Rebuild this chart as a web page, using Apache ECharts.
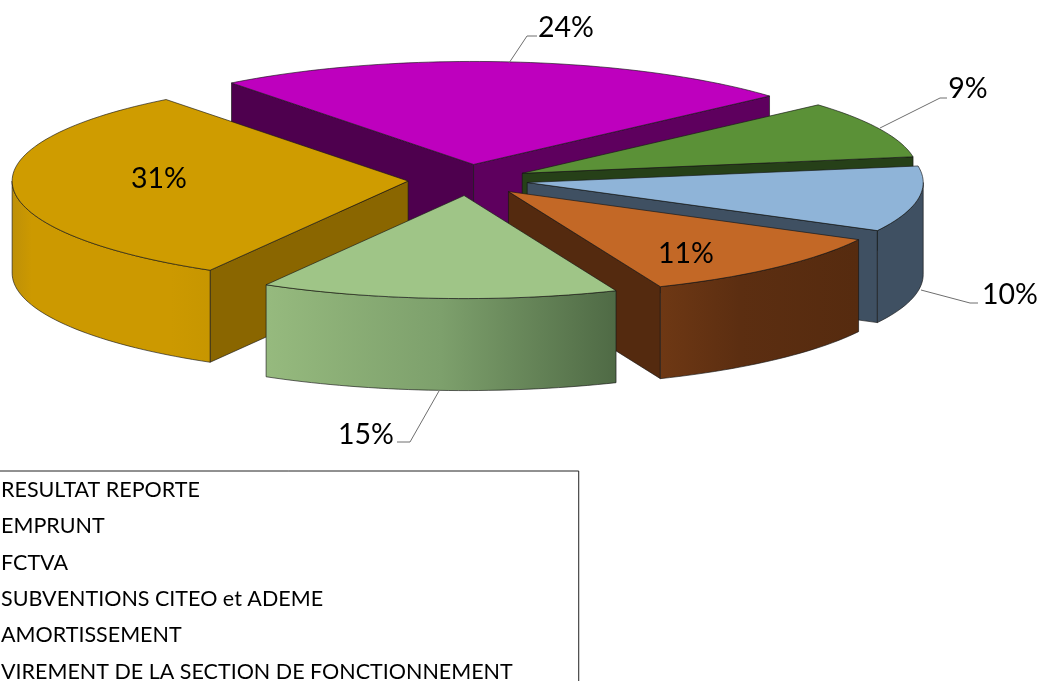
<!DOCTYPE html>
<html><head><meta charset="utf-8">
<style>html,body{margin:0;padding:0;background:#fff}#c{width:1044px;height:681px}</style>
<script src="https://cdn.jsdelivr.net/npm/echarts@6/dist/echarts.min.js"></script>
</head><body><div id="c"></div>
<script>
var categories = ['RESULTAT REPORTE','EMPRUNT','FCTVA','SUBVENTIONS CITEO et ADEME','AMORTISSEMENT','VIREMENT DE LA SECTION DE FONCTIONNEMENT'];
var shares = [31.2,23.9,9.0,10.3,11.0,14.6];
var shareLabels = ['31%','24%','9%','10%','11%','15%'];

// layout and styling
var firstAngle = 120, CX = 468, CY = 180, RX = 396, RY = 103, SQUASH = RY/RX, EXPLODE = 60, DEPTH = 92;
var paintOrder = [1,2,3,0,4,5];
var topColors = ['#CF9C00','#BE00BE','#5B9137','#8FB4D8','#C36826','#9FC587'];
var startWallColors = ['#8A6600',null,null,null,null,null];
var endWallColors = [null,'#5E005E','#264018','#3F5062','#542A0F',null];
var magentaStartWall = '#4E004E';
var outerStops = [
  [[0,'#BE9008'],[0.1,'#CC9900'],[0.8,'#CC9900'],[1,'#C79600']],
  [[0,'#5E005E'],[1,'#5E005E']],
  [[0,'#264018'],[1,'#264018']],
  [[0,'#3F5062'],[1,'#3F5062']],
  [[0,'#6E3814'],[0.4,'#5C2E11'],[1,'#562B0F']],
  [[0,'#96BA7E'],[0.5,'#7DA06C'],[1,'#4F6A45']]
];
var labelCentres = [[159,179],[566,28],[968,89],[1010,295],[686,254],[366,435]];
var leaders = [null,[[509,63],[527,36],[537,36]],[[880,128],[940,98],[947,98]],[[921,290],[970,303],[978,303]],null,[[439,391],[410,442],[397,442]]];

var total = shares.reduce(function(a,b){return a+b;},0);
function rad(d){return d*Math.PI/180;}
function startOf(i){var s=firstAngle;for(var k=0;k<i;k++)s+=shares[k]/total*360;return s;}
function arcPoints(a0,a1,cx,cy,dy){
  var pts=[],n=Math.max(2,Math.ceil(Math.abs(a1-a0)/1.5));
  for(var k=0;k<=n;k++){var t=rad(a0+(a1-a0)*k/n);pts.push([cx+RX*Math.cos(t),cy+RY*Math.sin(t)+dy]);}
  return pts;
}
function poly(points,fill){
  return {type:'polygon',shape:{points:points},style:{fill:fill,stroke:'rgba(20,20,20,0.8)',lineWidth:0.8,lineJoin:'round'}};
}
function makeRender(i){
  return function(params,api){
    var sweep = api.value(0)/total*360, a0 = startOf(i), a1 = a0+sweep, mid = rad((a0+a1)/2);
    var cx = CX+EXPLODE*Math.cos(mid), cy = CY+EXPLODE*SQUASH*Math.sin(mid);
    var kids = [];
    function radial(a,col){
      var t=rad(a),x=cx+RX*Math.cos(t),y=cy+RY*Math.sin(t);
      kids.push(poly([[cx,cy],[x,y],[x,y+DEPTH],[cx,cy+DEPTH]],col));
    }
    if(i===1) radial(a0,magentaStartWall);
    if(startWallColors[i]) radial(a0,startWallColors[i]);
    if(endWallColors[i]) radial(a1,endWallColors[i]);
    // outer wall: the part of the rim that faces the viewer (sin > 0)
    var vis=[];
    [0,360].forEach(function(off){
      var lo=Math.max(a0,off),hi=Math.min(a1,off+180);
      if(hi>lo)vis.push([lo,hi]);
    });
    vis.forEach(function(r){
      var top=arcPoints(r[0],r[1],cx,cy,0),bot=arcPoints(r[1],r[0],cx,cy,DEPTH);
      var xs=top.map(function(p){return p[0];}),minX=Math.min.apply(null,xs),maxX=Math.max.apply(null,xs);
      var stops=outerStops[i].map(function(s){return {offset:s[0],color:s[1]};});
      kids.push(poly(top.concat(bot),new echarts.graphic.LinearGradient(minX,0,maxX,0,stops,true)));
    });
    kids.push(poly([[cx,cy]].concat(arcPoints(a0,a1,cx,cy,0)),topColors[i]));
    if(leaders[i]) kids.push({type:'polyline',shape:{points:leaders[i]},style:{fill:null,stroke:'#6e6e6e',lineWidth:1}});
    kids.push({type:'text',x:labelCentres[i][0],y:labelCentres[i][1],style:{text:shareLabels[i],fill:'#000',font:'28.5px Lato',align:'center',verticalAlign:'middle'}});
    return {type:'group',children:kids};
  };
}
var series = categories.map(function(name,i){
  return {name:name,type:'custom',coordinateSystem:'none',z:2+paintOrder.indexOf(i),silent:true,animation:false,
    data:[[shares[i]]],renderItem:makeRender(i)};
});
var chart = echarts.init(document.getElementById('c'),null,{renderer:'canvas'});
chart.setOption({
  animation:false,
  legend:{show:true,orient:'vertical',left:-4,top:471,height:300,padding:[1,66,1,0],itemWidth:0,itemHeight:0,itemGap:0,
    selectedMode:false,borderColor:'#222',borderWidth:1,backgroundColor:'#fff',
    textStyle:{fontFamily:'Lato',fontSize:21.5,color:'#000',lineHeight:36.3},data:categories},
  series:series
});
</script></body></html>
